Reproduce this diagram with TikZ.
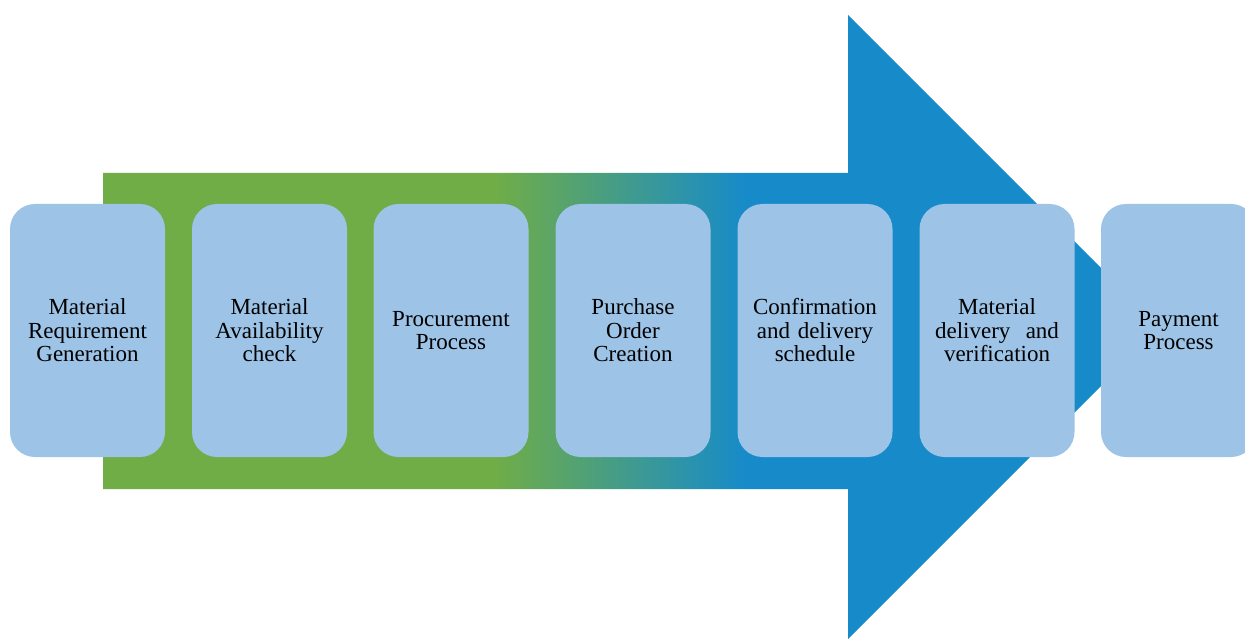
\documentclass[tikz,border=0pt]{standalone}
\usepackage{fontspec}
\setmainfont{Liberation Serif}
\definecolor{agreen}{RGB}{112,173,71}
\definecolor{ablue}{RGB}{23,139,202}
\definecolor{boxblue}{RGB}{157,195,230}
\pgfdeclarehorizontalshading{arrowshade}{100bp}{color(0bp)=(agreen); color(43.5bp)=(agreen); color(55.4bp)=(ablue); color(100bp)=(ablue)}
\tikzset{
  stepbox/.style={fill=boxblue, rounded corners=25pt, minimum width=155pt, minimum height=253pt,
    inner sep=0pt, align=center, text width=150pt, text=black,
    font=\fontsize{23}{23.5}\selectfont},
}
\begin{document}
\begin{tikzpicture}[x=1pt,y=-1pt]
\useasboundingbox (0,0) rectangle (1245,639);
\fill[white] (0,0) rectangle (1245,639);
\shade[shading=arrowshade] (103,173) -- (848,173) -- (848,15) -- (1160,327) -- (848,639) -- (848,489) -- (103,489) -- cycle;
\node[stepbox] (b1) at (87.5,330.5) {Material\\Requirement\\Generation};
\node[stepbox] (b2) at (269.5,330.5) {Material\\Availability\\check};
\node[stepbox] (b3) at (451,330.5) {Procurement\\Process};
\node[stepbox] (b4) at (633,330.5) {Purchase\\Order\\Creation};
\node[stepbox] (b5) at (815,330.5) {Confirmation\\and delivery\\schedule};
\node[stepbox] (b6) at (997,330.5) {Material\\delivery\ \ and\\verification};
\node[stepbox] (b7) at (1178.5,330.5) {Payment\\Process};
\end{tikzpicture}
\end{document}
